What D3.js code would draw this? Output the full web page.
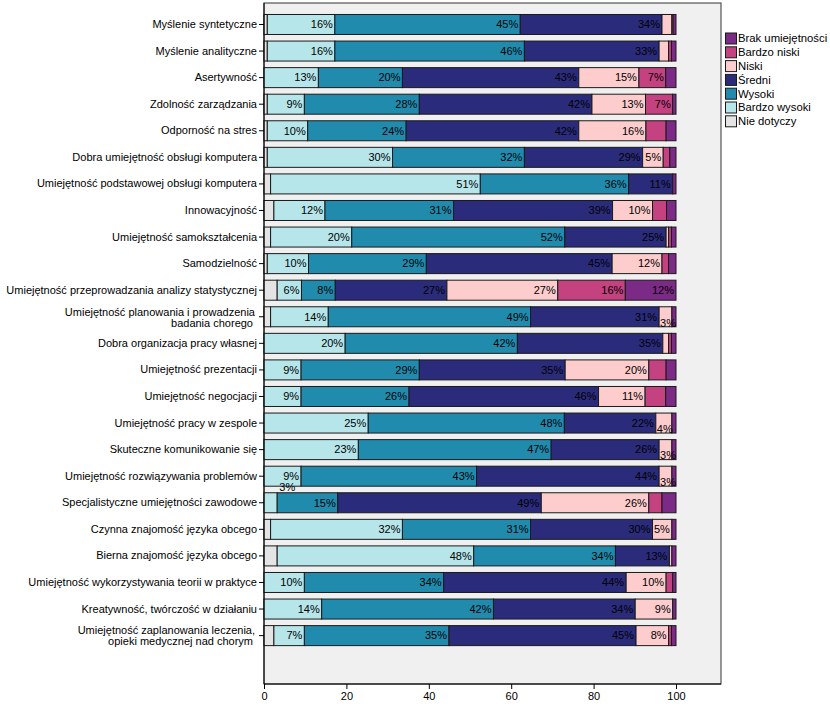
<!DOCTYPE html>
<html>
<head>
<meta charset="utf-8">
<script src="https://cdn.jsdelivr.net/npm/d3@7"></script>
<style>
  html, body { margin: 0; padding: 0; background: #fff; }
  svg { display: block; font-family: "Liberation Sans", Arial, sans-serif; }
</style>
</head>
<body>
<svg id="chart" width="830" height="712"></svg>
<script>
// ---------- DATA ----------
const categories = [
  "Myślenie syntetyczne",
  "Myślenie analityczne",
  "Asertywność",
  "Zdolność zarządzania",
  "Odporność na stres",
  "Dobra umiejętność obsługi komputera",
  "Umiejętność podstawowej obsługi komputera",
  "Innowacyjność",
  "Umiejętność samokształcenia",
  "Samodzielność",
  "Umiejętność przeprowadzania analizy statystycznej",
  "Umiejętność planowania i prowadzenia\nbadania chorego",
  "Dobra organizacja pracy własnej",
  "Umiejętność prezentacji",
  "Umiejętność negocjacji",
  "Umiejętność pracy w zespole",
  "Skuteczne komunikowanie się",
  "Umiejętność rozwiązywania problemów",
  "Specjalistyczne umiejętności zawodowe",
  "Czynna znajomość języka obcego",
  "Bierna znajomość języka obcego",
  "Umiejętność wykorzystywania teorii w praktyce",
  "Kreatywność, twórczość w działaniu",
  "Umiejętność zaplanowania leczenia,\nopieki medycznej nad chorym"
];

// Series values (percent), in stacking order from left to right
const nieDotyczy     = [0.8, 0.8, 0,    0.8, 0.8, 0.8, 1.6, 2.4, 1.6, 0.8, 3.2, 1.6, 0,    0,    0,    0,    0,    0,    0,    1.6, 3.2, 0,    0,    2.4];
const bardzoWysoki   = [16.4,16.4,13.2, 9.0, 9.8, 30.4,50.9,12.4,19.7,10.0,5.9, 14.0,19.7, 9.0, 9.0, 25.3,22.9, 9.0, 3.2, 32.0,47.7, 9.8, 14.0, 7.4];
const wysoki         = [45.0,46.0,20.4,27.9,23.9,32.0,36.0,31.2,51.7,28.6,8.2, 49.1,41.8,28.7,26.2,47.6,46.8,42.6,14.7,31.1,34.4,33.8,41.7,35.1];
const sredni         = [34.4,32.7,42.8,41.9,41.9,28.7,10.7,38.6,24.6,45.1,27.1,31.2,35.3,35.4,46.0,22.2,26.2,44.3,49.4,29.6,13.1,44.3,34.4,45.4];
const niski          = [2.4, 2.3, 14.6,13.0,16.3,5.0, 0,   9.7, 0.6, 12.1,26.9,3.1, 1.4, 20.3,11.3,3.9, 3.1, 3.1, 26.1,4.7, 0.6, 9.7, 9.1, 7.9];
const bardzoNiski    = [0.3, 0.7, 6.5, 6.6, 4.9, 1.6, 0,   3.4, 0.7, 1.6, 16.4,0,   0.7, 4.2, 5.0, 0,   0,   0,   3.2, 0,   0,   1.6, 0,   0.7];
const brakUmiejetn   = [0.7, 1.1, 2.5, 0.8, 2.4, 1.5, 0.8, 2.3, 1.1, 1.8, 12.3,1.0, 1.1, 2.4, 2.5, 1.0, 1.0, 1.0, 3.4, 1.0, 1.0, 0.8, 0.8, 1.1];

const seriesNames  = ["Nie dotyczy", "Bardzo wysoki", "Wysoki", "Średni", "Niski", "Bardzo niski", "Brak umiejętności"];
const seriesValues = [nieDotyczy, bardzoWysoki, wysoki, sredni, niski, bardzoNiski, brakUmiejetn];
const seriesColors = ["#E4E4E4", "#B6E6EA", "#218BAE", "#2B2B7B", "#FDCDCD", "#C3427F", "#7B2A85"];
const legendOrder  = ["Brak umiejętności", "Bardzo niski", "Niski", "Średni", "Wysoki", "Bardzo wysoki", "Nie dotyczy"];
const xTicks = [0, 20, 40, 60, 80, 100];
// minimum value for which a percentage label is printed, per series
const labelMin = [Infinity, 3, 3, 3, 3, 6, 6];

// ---------- LAYOUT ----------
const svg = d3.select("#chart");
const frame = {left: 264, right: 721, top: 3, bottom: 684};
const x = d3.scaleLinear().domain([0, 100]).range([264, 676]);
const y = d3.scaleBand().domain(categories).range([11.2, 648.9]).padding(0);
const barH = 20;

const rows = categories.map((c, i) => {
  const rec = {cat: c};
  seriesNames.forEach((s, k) => rec[s] = seriesValues[k][i]);
  return rec;
});
const stacked = d3.stack().keys(seriesNames)(rows);

// plot frame
svg.append("rect")
  .attr("x", frame.left).attr("y", frame.top)
  .attr("width", frame.right - frame.left).attr("height", frame.bottom - frame.top)
  .attr("fill", "#F0F0F0").attr("stroke", "#333").attr("stroke-width", 1);

// bars
const gBars = svg.append("g");
stacked.forEach((layer, k) => {
  gBars.selectAll(null).data(layer.filter(d => d[1] - d[0] > 0)).enter()
    .append("rect")
    .attr("x", d => x(d[0]))
    .attr("y", d => y(d.data.cat) + (y.bandwidth() - barH) / 2)
    .attr("width", d => x(d[1]) - x(d[0]))
    .attr("height", barH)
    .attr("fill", seriesColors[k])
    .attr("stroke", "#1a1a1a")
    .attr("stroke-width", 1);
});

// value labels
const gLab = svg.append("g").attr("font-size", "11px").attr("fill", "#000");
stacked.forEach((layer, k) => {
  layer.forEach(d => {
    const v = d[1] - d[0];
    if (!(v >= labelMin[k])) return;
    const txt = Math.round(v) + "%";
    const cy = y(d.data.cat) + y.bandwidth() / 2;
    const segW = x(d[1]) - x(d[0]);
    const t = gLab.append("text").text(txt).attr("dy", "0.35em");
    const tw = t.node().getComputedTextLength();
    if (tw + 3 <= segW) {
      t.attr("x", x(d[1]) - 2).attr("y", cy).attr("text-anchor", "end");
    } else if (d[0] <= 0.01) {
      t.attr("x", x(d[1]) + 18).attr("y", cy - barH / 2 - 6).attr("text-anchor", "end");
    } else {
      t.attr("x", x(d[0]) + 1).attr("y", cy + 6).attr("text-anchor", "start");
    }
  });
});

// y axis
const yAxis = svg.append("g")
  .attr("transform", `translate(${frame.left},0)`)
  .call(d3.axisLeft(y).tickSize(5).tickPadding(2));
yAxis.select(".domain").remove();
yAxis.selectAll(".tick line").attr("stroke", "#000");
yAxis.selectAll(".tick text")
  .attr("font-size", "11px").attr("font-family", "\"Liberation Sans\", Arial, sans-serif").attr("fill", "#000")
  .each(function(d) {
    const lines = d.split("\n");
    const t = d3.select(this);
    if (lines.length > 1) {
      t.text(null).attr("dy", null);
      lines.forEach((ln, i) => {
        t.append("tspan").attr("x", i === 0 ? -9 : -11).attr("y", i === 0 ? -5 : 6).attr("dy", "0.35em").text(ln);
      });
    }
  });

// x axis
const xAxis = svg.append("g")
  .attr("transform", `translate(0,${frame.bottom})`)
  .call(d3.axisBottom(x).tickValues(xTicks).tickSize(5).tickPadding(3).tickFormat(d3.format("d")));
xAxis.select(".domain").remove();
xAxis.selectAll(".tick line").attr("stroke", "#000");
xAxis.selectAll(".tick text").attr("font-size", "11px").attr("font-family", "\"Liberation Sans\", Arial, sans-serif").attr("fill", "#000");
svg.append("line").attr("x1", frame.left).attr("x2", frame.right).attr("y1", frame.bottom).attr("y2", frame.bottom).attr("stroke", "#000");
svg.append("line").attr("x1", frame.left).attr("x2", frame.left).attr("y1", frame.top).attr("y2", frame.bottom).attr("stroke", "#000");

// legend
const lg = svg.append("g").attr("font-size", "11.3px");
legendOrder.forEach((name, i) => {
  const k = seriesNames.indexOf(name);
  const cy = 38.5 + i * 13.8;
  lg.append("rect").attr("x", 725.5).attr("y", cy - 5.5).attr("width", 11).attr("height", 11)
    .attr("fill", seriesColors[k]).attr("stroke", "#1a1a1a");
  lg.append("text").attr("x", 738).attr("y", cy).attr("dy", "0.35em").text(name);
});
</script>
</body>
</html>
